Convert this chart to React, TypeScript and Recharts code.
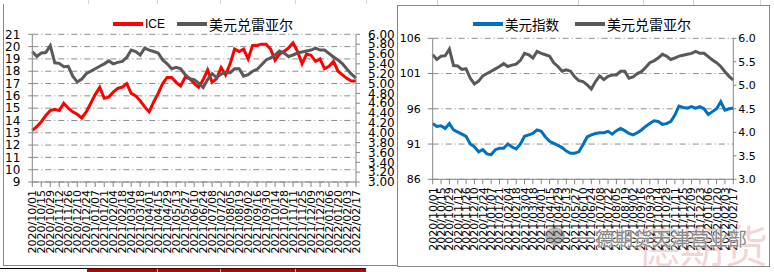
import React from "react";
import { LineChart, Line, XAxis, YAxis, CartesianGrid } from "recharts";

// weekly sample dates (Thursdays)
const dates = [
  "2020/10/01", "2020/10/08", "2020/10/15", "2020/10/22", "2020/10/29", "2020/11/05", "2020/11/12", "2020/11/19",
  "2020/11/26", "2020/12/03", "2020/12/10", "2020/12/17", "2020/12/24", "2020/12/31", "2021/01/07", "2021/01/14",
  "2021/01/21", "2021/01/28", "2021/02/04", "2021/02/11", "2021/02/18", "2021/02/25", "2021/03/04", "2021/03/11",
  "2021/03/18", "2021/03/25", "2021/04/01", "2021/04/08", "2021/04/15", "2021/04/22", "2021/04/29", "2021/05/06",
  "2021/05/13", "2021/05/20", "2021/05/27", "2021/06/03", "2021/06/10", "2021/06/17", "2021/06/24", "2021/07/01",
  "2021/07/08", "2021/07/15", "2021/07/22", "2021/07/29", "2021/08/05", "2021/08/12", "2021/08/19", "2021/08/26",
  "2021/09/02", "2021/09/09", "2021/09/16", "2021/09/23", "2021/09/30", "2021/10/07", "2021/10/14", "2021/10/21",
  "2021/10/28", "2021/11/04", "2021/11/11", "2021/11/18", "2021/11/25", "2021/12/02", "2021/12/09", "2021/12/16",
  "2021/12/23", "2021/12/30", "2022/01/06", "2022/01/13", "2022/01/20", "2022/01/27", "2022/02/03", "2022/02/10",
  "2022/02/17",
];

// ICE raw sugar, cents/lb
const ice = [
  13.2, 13.5, 13.9, 14.4, 14.8, 14.9, 14.8, 15.4, 15.0, 14.7, 14.5, 14.2, 14.7, 15.4, 16.1, 16.7, 15.8, 15.9,
  16.3, 16.6, 16.7, 17.0, 16.2, 16.0, 15.6, 15.1, 14.7, 15.5, 16.2, 17.0, 17.5, 17.5, 17.1, 16.8, 17.5, 17.4,
  17.0, 16.7, 17.3, 18.1, 17.1, 17.4, 18.3, 17.7, 18.6, 19.8, 19.6, 19.8, 19.0, 20.1, 20.1, 20.2, 20.2, 19.8,
  18.9, 19.4, 19.6, 19.9, 20.3, 19.6, 18.6, 19.4, 19.3, 18.8, 19.0, 18.2, 18.4, 18.8, 18.0, 17.7, 17.4, 17.2,
  17.2,
];

// USD/BRL
const usdBrl = [
  5.65, 5.55, 5.62, 5.63, 5.77, 5.42, 5.41, 5.34, 5.35, 5.15, 5.03, 5.09, 5.2, 5.25, 5.3, 5.35, 5.4, 5.46,
  5.4, 5.43, 5.45, 5.53, 5.68, 5.65, 5.58, 5.72, 5.68, 5.65, 5.62, 5.48, 5.4, 5.3, 5.33, 5.3, 5.18, 5.1,
  5.08, 5.01, 4.92, 5.08, 5.2, 5.12, 5.19, 5.22, 5.22, 5.3, 5.3, 5.15, 5.18, 5.25, 5.29, 5.38, 5.48, 5.52,
  5.58, 5.66, 5.62, 5.55, 5.58, 5.62, 5.64, 5.66, 5.68, 5.72, 5.68, 5.68, 5.61, 5.54, 5.48, 5.4, 5.29, 5.19,
  5.11,
];

// US dollar index
const dxy = [
  93.9, 93.5, 93.6, 93.2, 93.9, 93.0, 92.7, 92.4, 92.1, 91.0, 90.6, 89.9, 90.2, 89.6, 89.5, 90.2, 90.4, 90.4,
  91.0, 90.6, 90.3, 91.0, 92.1, 92.3, 92.5, 93.0, 92.8, 92.0, 91.4, 91.1, 90.8, 90.5, 90.0, 89.7, 89.7, 89.9,
  90.9, 92.0, 92.3, 92.5, 92.6, 92.6, 92.8, 92.4, 92.9, 93.2, 92.9, 92.5, 92.3, 92.6, 93.0, 93.5, 93.9, 94.3,
  94.2, 93.8, 93.9, 94.2, 95.1, 96.4, 96.2, 96.1, 96.3, 96.1, 96.3, 96.0, 95.2, 95.6, 96.0, 97.0, 95.8, 96.0,
  96.1,
];

const iceTicks = [9, 10, 11, 12, 13, 14, 15, 16, 17, 18, 19, 20, 21];
const brlTicksLeft = [3, 3.2, 3.4, 3.6, 3.8, 4, 4.2, 4.4, 4.6, 4.8, 5, 5.2, 5.4, 5.6, 5.8, 6];
const dxyTicks = [86, 91, 96, 101, 106];
const brlTicksRight = [3, 3.5, 4, 4.5, 5, 5.5, 6];

const rows = dates.map((date, i) => ({ date, ice: ice[i], brl: usdBrl[i], dxy: dxy[i] }));

const AXIS = "#868686";
const GRID = "#8c8c8c";
const NUM_FONT = "DejaVu Sans";
const CJK_FONT = "'Noto Sans CJK SC', 'Noto Sans', sans-serif";

function DateTick(props: any) {
  const { x, y, payload } = props;
  return (
    <text
      x={x}
      y={y}
      transform={`rotate(-90, ${x}, ${y})`}
      textAnchor="end"
      dy="0.36em"
      fontSize={11}
      fontFamily={NUM_FONT}
      fill="#000"
    >
      {payload.value}
    </text>
  );
}

function LegendItem({ color, label, x, font, size }: any) {
  return (
    <div style={{ position: "absolute", left: x, top: 15, height: 18, display: "flex", alignItems: "center" }}>
      <div style={{ width: 30, height: 4, background: color }} />
      <span style={{ marginLeft: 2, fontFamily: font, fontSize: size, color: "#000", lineHeight: "18px" }}>{label}</span>
    </div>
  );
}

export default function App() {
  return (
    <div style={{ position: "absolute", left: 0, top: 0, width: 774, height: 272, overflow: "hidden", background: "#fff" }}>
      {/* spreadsheet cells behind the charts */}
      {[88, 157, 220, 295, 366, 437, 578, 643, 693, 760].map((x) => (
        <div key={x} style={{ position: "absolute", left: x, top: 0, width: 1, height: 6, background: "#d4d4d4" }} />
      ))}
      <div style={{ position: "absolute", left: 0, top: 268, width: 87, height: 1, background: "#000" }} />
      <div style={{ position: "absolute", left: 87, top: 268, width: 279, height: 4, background: "#c00000", borderTop: "1px solid #400" }} />
      {[157, 220, 295].map((x) => (
        <div key={x} style={{ position: "absolute", left: x, top: 269, width: 1, height: 3, background: "#e8b0b0" }} />
      ))}

      {/* left chart: ICE vs USD/BRL */}
      <div style={{ position: "absolute", left: 3, top: 4, width: 394, height: 261, borderLeft: `1px solid ${AXIS}`, borderBottom: `1px solid ${AXIS}`, background: "#fff" }} />
      <div style={{ position: "absolute", left: 3, top: 0 }}>
        <LineChart width={394} height={265} data={rows} margin={{ top: 34.3, right: 0, bottom: 0, left: 0 }}>
          <CartesianGrid yAxisId="l" horizontal vertical={false} stroke={GRID} strokeDasharray="6 3 1 3" />
          <XAxis
            dataKey="date"
            interval={1}
            height={83}
            tick={<DateTick />}
            tickSize={5}
            tickMargin={3}
            axisLine={{ stroke: AXIS }}
            tickLine={{ stroke: AXIS }}
          />
          <YAxis
            yAxisId="l"
            orientation="left"
            width={29.3}
            domain={[9, 21]}
            ticks={iceTicks}
            interval={0}
            tickSize={4}
            tickMargin={8}
            axisLine={{ stroke: AXIS }}
            tickLine={{ stroke: AXIS }}
            tick={{ fontSize: 12, fill: "#000", fontFamily: NUM_FONT }}
          />
          <YAxis
            yAxisId="r"
            orientation="right"
            width={41}
            domain={[3, 6]}
            ticks={brlTicksLeft}
            interval={0}
            tickSize={4}
            tickMargin={8}
            tickFormatter={(v: number) => v.toFixed(2)}
            axisLine={{ stroke: AXIS }}
            tickLine={{ stroke: AXIS }}
            tick={{ fontSize: 12, fill: "#000", fontFamily: NUM_FONT }}
          />
          <Line yAxisId="l" type="linear" dataKey="ice" name="ICE" stroke="#ff0000" strokeWidth={3} dot={false} isAnimationActive={false} />
          <Line yAxisId="r" type="linear" dataKey="brl" name="美元兑雷亚尔" stroke="#595959" strokeWidth={3} dot={false} isAnimationActive={false} />
        </LineChart>
      </div>
      <LegendItem x={113} color="#ff0000" label="ICE" font="'Liberation Sans', sans-serif" size={12} />
      <LegendItem x={177} color="#595959" label="美元兑雷亚尔" font={CJK_FONT} size={14} />

      {/* right chart: dollar index vs USD/BRL */}
      <div style={{ position: "absolute", left: 397, top: 5, width: 373, height: 262, boxSizing: "border-box", border: `1px solid ${AXIS}`, background: "#fff" }} />
      <div style={{ position: "absolute", left: 397, top: 5 }}>
        <LineChart width={373} height={262} data={rows} margin={{ top: 33.3, right: 0, bottom: 0, left: 0 }}>
          <CartesianGrid yAxisId="l" horizontal vertical={false} stroke={GRID} strokeDasharray="6 3 1 3" />
          <XAxis
            dataKey="date"
            interval={1}
            height={87.7}
            tick={<DateTick />}
            tickSize={5}
            tickMargin={3}
            axisLine={{ stroke: AXIS }}
            tickLine={{ stroke: AXIS }}
          />
          <YAxis
            yAxisId="l"
            orientation="left"
            width={35.7}
            domain={[86, 106]}
            ticks={dxyTicks}
            interval={0}
            tickSize={5}
            tickMargin={7}
            axisLine={{ stroke: AXIS }}
            tickLine={{ stroke: AXIS }}
            tick={{ fontSize: 11, fill: "#000", fontFamily: NUM_FONT }}
          />
          <YAxis
            yAxisId="r"
            orientation="right"
            width={36.7}
            domain={[3, 6]}
            ticks={brlTicksRight}
            interval={0}
            tickSize={3}
            tickMargin={2}
            tickFormatter={(v: number) => v.toFixed(1)}
            axisLine={{ stroke: AXIS }}
            tickLine={{ stroke: AXIS }}
            tick={{ fontSize: 11, fill: "#000", fontFamily: NUM_FONT }}
          />
          <Line yAxisId="l" type="linear" dataKey="dxy" name="美元指数" stroke="#0070c0" strokeWidth={3} dot={false} isAnimationActive={false} />
          <Line yAxisId="r" type="linear" dataKey="brl" name="美元兑雷亚尔" stroke="#595959" strokeWidth={3} dot={false} isAnimationActive={false} />
        </LineChart>
      </div>
      <LegendItem x={473} color="#0070c0" label="美元指数" font={CJK_FONT} size={13.5} />
      <LegendItem x={575} color="#595959" label="美元兑雷亚尔" font={CJK_FONT} size={14} />

      {/* watermarks */}
      <div style={{ position: "absolute", left: 636, top: 214, fontFamily: CJK_FONT, fontSize: 44, lineHeight: "60px", color: "rgba(200,70,70,0.22)", whiteSpace: "nowrap" }}>
        德期货
      </div>
      <div style={{ position: "absolute", left: 545, top: 227, width: 20, height: 18, borderRadius: 10, background: "rgba(120,120,120,0.5)" }} />
      <div style={{ position: "absolute", left: 576, top: 226, fontFamily: CJK_FONT, fontSize: 19, lineHeight: "24px", color: "#888", whiteSpace: "nowrap", textShadow: "0 0 2px #fff, 0 0 2px #fff" }}>
        一德期货天津营业部
      </div>
    </div>
  );
}
